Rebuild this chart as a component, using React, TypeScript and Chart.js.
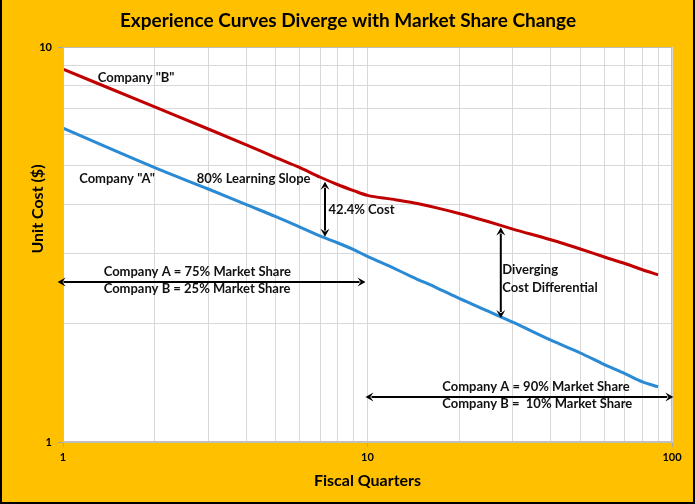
import React, { useEffect, useRef } from "react";
import { Chart, registerables } from "chart.js";

Chart.register(...registerables);

// ---- Data ----
const quarters = [1, 2, 3, 4, 5, 6, 7, 8, 9, 10, 12, 14, 17, 20, 25, 30, 40, 50, 60, 70, 80, 90];
const companyA = [6.23, 4.95, 4.37, 3.99, 3.72, 3.5, 3.32, 3.19, 3.07, 2.95, 2.77, 2.62, 2.45, 2.31, 2.14, 2.01, 1.81, 1.68, 1.57, 1.49, 1.42, 1.38];
const companyB = [8.79, 7.05, 6.2, 5.65, 5.25, 4.95, 4.68, 4.48, 4.33, 4.21, 4.12, 4.04, 3.91, 3.79, 3.61, 3.46, 3.25, 3.08, 2.94, 2.83, 2.73, 2.65];
const xGridValues = [1, 2, 3, 4, 5, 6, 7, 8, 9, 10, 20, 30, 40, 50, 60, 70, 80, 90, 100];
const yGridValues = [1, 2, 3, 4, 5, 6, 7, 8, 9, 10];
const xTickLabels = [1, 10, 100];
const yTickLabels = [1, 10];

const TITLE = "Experience Curves Diverge with Market Share Change";
const X_TITLE = "Fiscal Quarters";
const Y_TITLE = "Unit Cost ($)";

// Annotations in data coordinates
const arrows = [
  { x1: 7.25, y1: 4.56, x2: 7.25, y2: 3.31 },
  { x1: 27.4, y1: 3.49, x2: 27.4, y2: 2.06 },
  { x1: 0.96, y1: 2.54, x2: 9.85, y2: 2.54 },
  { x1: 9.85, y1: 1.3, x2: 101, y2: 1.3 },
];
const notes = [
  { text: 'Company "B"', x: 1.3, y: 8.35 },
  { text: 'Company "A"', x: 1.13, y: 4.63 },
  { text: "80% Learning Slope", x: 2.75, y: 4.63 },
  { text: "42.4% Cost", x: 7.45, y: 3.87 },
  { text: "Diverging", x: 27.7, y: 2.73 },
  { text: "Cost Differential", x: 27.7, y: 2.45 },
  { text: "Company A = 75% Market Share", x: 1.36, y: 2.69 },
  { text: "Company B = 25% Market Share", x: 1.36, y: 2.44 },
  { text: "Company A = 90% Market Share", x: 17.6, y: 1.38 },
  { text: "Company B =  10% Market Share", x: 17.6, y: 1.25 },
];

const FONT = "Lato, 'Open Sans', sans-serif";

function drawArrow(ctx: CanvasRenderingContext2D, x1: number, y1: number, x2: number, y2: number) {
  const ang = Math.atan2(y2 - y1, x2 - x1);
  const len = 8;
  const hw = 4.5;
  ctx.save();
  ctx.strokeStyle = "#000";
  ctx.fillStyle = "#000";
  ctx.lineWidth = 2;
  ctx.beginPath();
  ctx.moveTo(x1 + Math.cos(ang) * (len - 2), y1 + Math.sin(ang) * (len - 2));
  ctx.lineTo(x2 - Math.cos(ang) * (len - 2), y2 - Math.sin(ang) * (len - 2));
  ctx.stroke();
  const head = (px: number, py: number, a: number) => {
    ctx.beginPath();
    ctx.moveTo(px, py);
    ctx.lineTo(px - Math.cos(a) * len - Math.sin(a) * hw, py - Math.sin(a) * len + Math.cos(a) * hw);
    ctx.lineTo(px - Math.cos(a) * len * 0.6, py - Math.sin(a) * len * 0.6);
    ctx.lineTo(px - Math.cos(a) * len + Math.sin(a) * hw, py - Math.sin(a) * len - Math.cos(a) * hw);
    ctx.closePath();
    ctx.fill();
  };
  head(x2, y2, ang);
  head(x1, y1, ang + Math.PI);
  ctx.restore();
}

const decorPlugin = {
  id: "decor",
  beforeDraw(chart: any) {
    const { ctx, width, height } = chart;
    ctx.save();
    ctx.fillStyle = "#FFC000";
    ctx.fillRect(0, 0, width, height);
    const ca = chart.chartArea;
    ctx.fillStyle = "#FFFFFF";
    ctx.fillRect(ca.left, ca.top, ca.right - ca.left, ca.bottom - ca.top);
    ctx.restore();
  },
  afterDraw(chart: any) {
    const { ctx, width, height } = chart;
    const ca = chart.chartArea;
    const xs = chart.scales.x;
    const ys = chart.scales.y;
    ctx.save();
    // plot border
    ctx.strokeStyle = "#bfbfbf";
    ctx.lineWidth = 1;
    ctx.strokeRect(ca.left + 0.5, ca.top + 0.5, ca.right - ca.left - 1, ca.bottom - ca.top - 1);
    // outer border
    ctx.fillStyle = "#000";
    ctx.fillRect(0, 0, 2, height);
    ctx.fillRect(width - 2, 0, 2, height);
    ctx.fillRect(0, height - 2, width, 2);
    // title
    ctx.fillStyle = "#000";
    ctx.font = `bold 19px ${FONT}`;
    ctx.textAlign = "center";
    ctx.textBaseline = "middle";
    ctx.fillText(TITLE, 348, 21);
    // y title
    ctx.save();
    ctx.translate(38, 209);
    ctx.rotate(-Math.PI / 2);
    ctx.font = `bold 16px ${FONT}`;
    ctx.fillText(Y_TITLE, 0, 0);
    ctx.restore();
    // arrows
    for (const a of arrows) {
      drawArrow(ctx, xs.getPixelForValue(a.x1), ys.getPixelForValue(a.y1), xs.getPixelForValue(a.x2), ys.getPixelForValue(a.y2));
    }
    // notes
    ctx.font = `bold 13px ${FONT}`;
    ctx.textAlign = "left";
    ctx.textBaseline = "middle";
    ctx.fillStyle = "#111";
    for (const n of notes) {
      ctx.fillText(n.text, xs.getPixelForValue(n.x), ys.getPixelForValue(n.y));
    }
    ctx.restore();
  },
};

const isMajor = (v: number, list: number[]) => list.some((m) => Math.abs(m - v) < 1e-6);

export default function App() {
  const ref = useRef<HTMLCanvasElement | null>(null);
  useEffect(() => {
    if (!ref.current) return;
    const chart = new Chart(ref.current, {
      type: "line",
      data: {
        datasets: [
          {
            label: 'Company "B"',
            data: quarters.map((q, i) => ({ x: q, y: companyB[i] })),
            borderColor: "#C00000",
            borderWidth: 3,
            pointRadius: 0,
            fill: false,
            cubicInterpolationMode: "monotone",
          },
          {
            label: 'Company "A"',
            data: quarters.map((q, i) => ({ x: q, y: companyA[i] })),
            borderColor: "#2A8AD4",
            borderWidth: 3,
            pointRadius: 0,
            fill: false,
            cubicInterpolationMode: "monotone",
          },
        ],
      },
      options: {
        responsive: false,
        animation: false,
        layout: { padding: { left: 0, top: 47, right: 23, bottom: 0 } },
        plugins: { legend: { display: false }, title: { display: false }, tooltip: { enabled: false } },
        scales: {
          x: {
            type: "logarithmic",
            min: 1,
            max: 100,
            afterBuildTicks: (s: any) => {
              s.ticks = xGridValues.map((v) => ({ value: v }));
            },
            afterFit: (s: any) => {
              s.height = 62;
            },
            grid: {
              color: "#d9d9d9",
              tickLength: 5,
              tickColor: (c: any) => (isMajor(c.tick?.value, xTickLabels) ? "#a6a6a6" : "rgba(0,0,0,0)"),
            },
            border: { display: true, color: "#bfbfbf" },
            ticks: {
              autoSkip: false,
              maxRotation: 0,
              padding: 4,
              color: "#000",
              font: { family: FONT, size: 11, weight: "bold" },
              callback: (v: any) => (isMajor(Number(v), xTickLabels) ? String(v) : ""),
            },
            title: {
              display: true,
              text: X_TITLE,
              color: "#000",
              font: { family: FONT, size: 16, weight: "bold" },
              padding: { top: 0, bottom: 14 },
            },
          },
          y: {
            type: "logarithmic",
            min: 1,
            max: 10,
            afterBuildTicks: (s: any) => {
              s.ticks = yGridValues.map((v) => ({ value: v }));
            },
            afterFit: (s: any) => {
              s.width = 63;
            },
            grid: {
              color: "#d9d9d9",
              tickLength: 5,
              tickColor: (c: any) => (isMajor(c.tick?.value, yTickLabels) ? "#a6a6a6" : "rgba(0,0,0,0)"),
            },
            border: { display: true, color: "#bfbfbf" },
            ticks: {
              autoSkip: false,
              padding: 6,
              color: "#000",
              font: { family: FONT, size: 11, weight: "bold" },
              callback: (v: any) => (isMajor(Number(v), yTickLabels) ? String(v) : ""),
            },
          },
        },
      } as any,
      plugins: [decorPlugin],
    });
    return () => chart.destroy();
  }, []);
  return (
    <div style={{ position: "absolute", left: 0, top: 0, width: 695, height: 504 }}>
      <canvas ref={ref} width={695} height={504} style={{ display: "block", width: 695, height: 504 }} />
    </div>
  );
}
